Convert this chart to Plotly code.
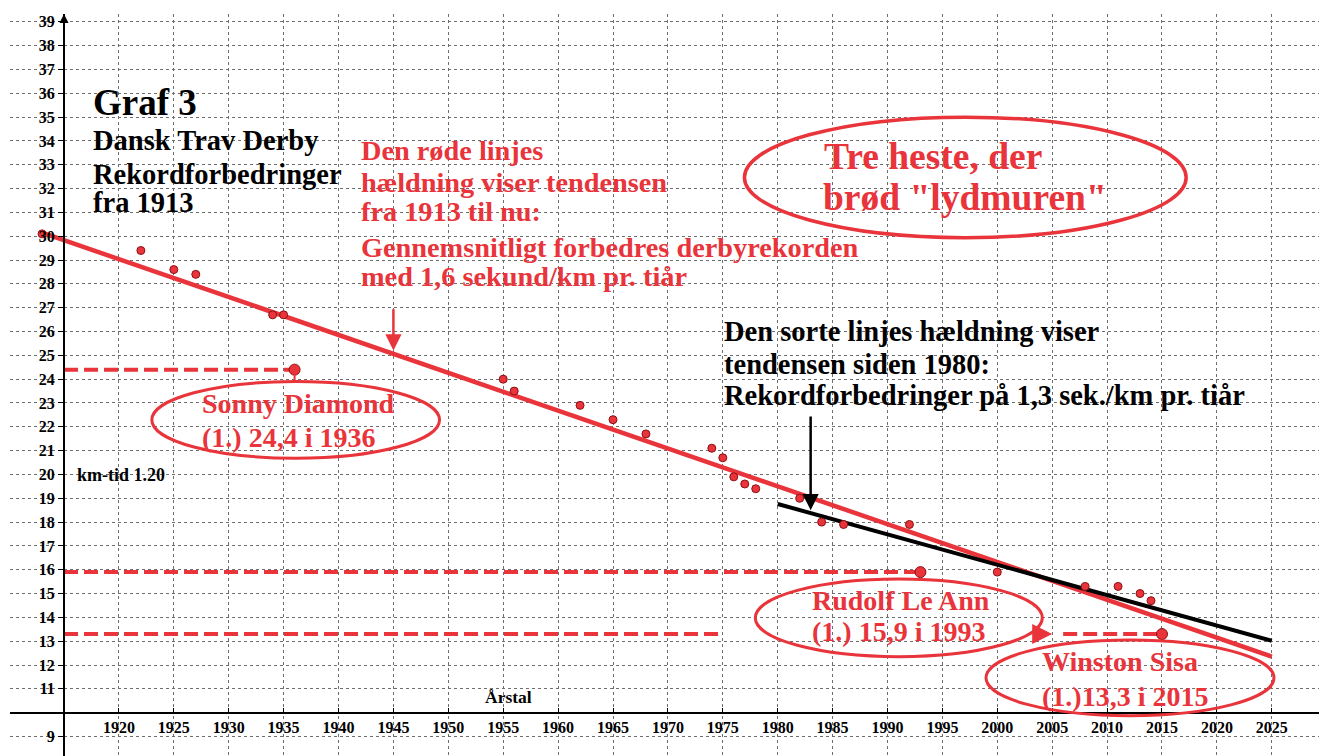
import plotly.graph_objects as go

# ---------------- data ----------------
years = [1913, 1922, 1925, 1927, 1934, 1935, 1955, 1956, 1962, 1965, 1968,
         1974, 1975, 1976, 1977, 1978, 1982, 1984, 1986, 1992, 2000,
         2008, 2011, 2013, 2014]
km_times = [30.1, 29.4, 28.6, 28.4, 26.7, 26.7, 24.0, 23.5, 22.9, 22.3, 21.7,
            21.1, 20.7, 19.9, 19.6, 19.4, 19.0, 18.0, 17.9, 17.9, 15.9,
            15.3, 15.3, 15.0, 14.7]

record_horses = ["Sonny Diamond", "Rudolf Le Ann", "Winston Sisa"]
record_years = [1936, 1993, 2015]
record_times = [24.4, 15.9, 13.3]
record_labels = ["(1.) 24,4 i 1936", "(1.) 15,9 i 1993", "(1.)13,3 i 2015"]

red_trend_years = [1913, 2025]
red_trend_times = [30.15, 12.35]
black_trend_years = [1980, 2025]
black_trend_times = [18.76, 13.02]

x_tick_years = list(range(1915, 2030, 5))
x_tick_labels = ["" if y == 1915 else str(y) for y in x_tick_years]
y_tick_values = list(range(9, 40))
y_tick_labels = ["" if v == 10 else str(v) for v in y_tick_values]

# ---------------- style ----------------
RED = "#E8343A"
DARKRED = "#8B1014"
SERIF = "Liberation Serif, Times New Roman, serif"
X0, Y0 = 1915, 10          # axis origin
X_RANGE = [1910.08, 2029.3]
Y_RANGE = [8.18, 39.33]

fig = go.Figure()

# dashed record lines (from y-axis to the record point)
gap_start, gap_end = 1975, 2006
for yr, t in zip(record_years, record_times):
    if yr == 2015:
        xs = [X0, gap_start, None, gap_end, yr]
        ys = [t, t, None, t, t]
    else:
        xs = [X0, yr]
        ys = [t, t]
    fig.add_trace(go.Scatter(x=xs, y=ys, mode="lines",
                             line=dict(color=RED, width=4, dash="14px,6px"),
                             hoverinfo="skip", showlegend=False))

# trend lines
fig.add_trace(go.Scatter(x=red_trend_years, y=red_trend_times, mode="lines",
                         line=dict(color=RED, width=4.5), showlegend=False))
fig.add_trace(go.Scatter(x=black_trend_years, y=black_trend_times, mode="lines",
                         line=dict(color="black", width=4), showlegend=False))

# record improvements
fig.add_trace(go.Scatter(x=years, y=km_times, mode="markers",
                         marker=dict(color=RED, size=8,
                                     line=dict(color=DARKRED, width=1)),
                         showlegend=False))
fig.add_trace(go.Scatter(x=record_years, y=record_times, mode="markers",
                         marker=dict(color=RED, size=11,
                                     line=dict(color=DARKRED, width=1)),
                         text=record_horses, showlegend=False))

shapes = []
annotations = []


def txt(x, y, s, size, color, xanchor="left"):
    annotations.append(dict(x=x, y=y, xref="x", yref="y", text=f"<b>{s}</b>",
                            showarrow=False, xanchor=xanchor, yanchor="middle",
                            font=dict(family=SERIF, size=size, color=color)))


def ellipse(x0, x1, y0, y1, w=3):
    shapes.append(dict(type="circle", xref="x", yref="y", x0=x0, x1=x1,
                       y0=y0, y1=y1, line=dict(color=RED, width=w),
                       layer="above"))


# title block
txt(1917.5, 35.63, "Graf 3", 37, "black")
txt(1917.5, 34.04, "Dansk Trav Derby", 28.5, "black")
txt(1917.5, 32.58, "Rekordforbedringer", 28.5, "black")
txt(1917.5, 31.40, "fra 1913", 28.5, "black")

# red explanation
red_lines = ["Den røde linjes", "hældning viser tendensen", "fra 1913 til nu:",
             "Gennemsnitligt forbedres derbyrekorden",
             "med 1,6 sekund/km pr. tiår"]
for s, yy in zip(red_lines, [33.62, 32.27, 31.05, 29.54, 28.33]):
    txt(1941.9, yy, s, 28.3, RED)

# black explanation
black_lines = ["Den sorte linjes hældning viser", "tendensen siden 1980:",
               "Rekordforbedringer på 1,3 sek./km pr. tiår"]
for s, yy in zip(black_lines, [26.02, 24.60, 23.30]):
    txt(1974.9, yy, s, 28.5, "black")

# "Tre heste" ellipse
ellipse(1976.97, 2017.2, 29.94, 35.0, 3.5)
txt(1984.0, 33.33, "Tre heste, der", 37.5, RED)
txt(1983.9, 31.61, "brød \"lydmuren\"", 37.5, RED)

# record ellipses
ellipse(1923.0, 1949.2, 20.68, 23.9)
txt(1927.4, 22.96, record_horses[0], 28, RED)
txt(1927.4, 21.57, record_labels[0], 28, RED)
shapes.append(dict(type="line", xref="x", yref="y", x0=record_years[0],
                   x1=record_years[0], y0=record_times[0], y1=23.9,
                   line=dict(color=RED, width=2)))

ellipse(1977.96, 2004.1, 12.35, 15.61)
txt(1982.9, 14.69, record_horses[1], 28, RED)
txt(1982.9, 13.39, record_labels[1], 28, RED)

ellipse(1998.97, 2025.2, 9.87, 13.05)
txt(2003.9, 12.13, record_horses[2], 28, RED)
txt(2003.9, 10.66, record_labels[2], 28, RED)

# small labels
txt(1916.0, 19.98, "km-tid 1.20", 18, "black")
txt(1953.2, 10.66, "Årstal", 17.5, "black")

# arrows
annotations.append(dict(x=1945, y=25.2, ax=1945, ay=27.0, xref="x", yref="y",
                        axref="x", ayref="y", text="", showarrow=True,
                        arrowhead=2, arrowsize=1.3, arrowwidth=2.5,
                        arrowcolor=RED))
annotations.append(dict(x=1983, y=18.5, ax=1983, ay=22.5, xref="x", yref="y",
                        axref="x", ayref="y", text="", showarrow=True,
                        arrowhead=2, arrowsize=1.3, arrowwidth=2.5,
                        arrowcolor="black"))
annotations.append(dict(x=2005.0, y=record_times[2], ax=2004.3,
                        ay=record_times[2], xref="x", yref="y", axref="x",
                        ayref="y", text="", showarrow=True, arrowhead=2,
                        arrowsize=1.0, arrowwidth=4, arrowcolor=RED))
# y-axis arrow
annotations.append(dict(x=X0, y=Y_RANGE[1], ax=X0, ay=38.5, xref="x", yref="y",
                        axref="x", ayref="y", text="", showarrow=True,
                        arrowhead=2, arrowsize=1.2, arrowwidth=1.5,
                        arrowcolor="black"))

W, H = 1319, 756
ml, mt = 10, 14

fig.update_layout(
    width=W, height=H,
    margin=dict(l=ml, r=0, t=mt, b=0),
    plot_bgcolor="white", paper_bgcolor="white",
    shapes=shapes, annotations=annotations,
    showlegend=False,
    xaxis=dict(range=X_RANGE, tickvals=x_tick_years, ticktext=x_tick_labels,
               showgrid=True, gridcolor="#6e6e6e", griddash="dot", gridwidth=1,
               zeroline=False, showline=True, linecolor="black", linewidth=2,
               ticks="inside", ticklen=4, tickcolor="black",
               tickfont=dict(family=SERIF, size=16, color="black", weight="bold"),
               anchor="free", position=(Y0 - Y_RANGE[0]) / (Y_RANGE[1] - Y_RANGE[0])),
    yaxis=dict(range=Y_RANGE, tickvals=y_tick_values, ticktext=y_tick_labels,
               showgrid=True, gridcolor="#6e6e6e", griddash="dot", gridwidth=1,
               zeroline=False, showline=True, linecolor="black", linewidth=2,
               ticks="outside", ticklen=5, tickcolor="black",
               tickfont=dict(family=SERIF, size=16, color="black", weight="bold"),
               anchor="free", position=(X0 - X_RANGE[0]) / (X_RANGE[1] - X_RANGE[0])),
)

fig.write_html("out.html", config={"displayModeBar": False},
               post_script="document.body.style.margin='0';document.body.style.overflow='hidden';")
